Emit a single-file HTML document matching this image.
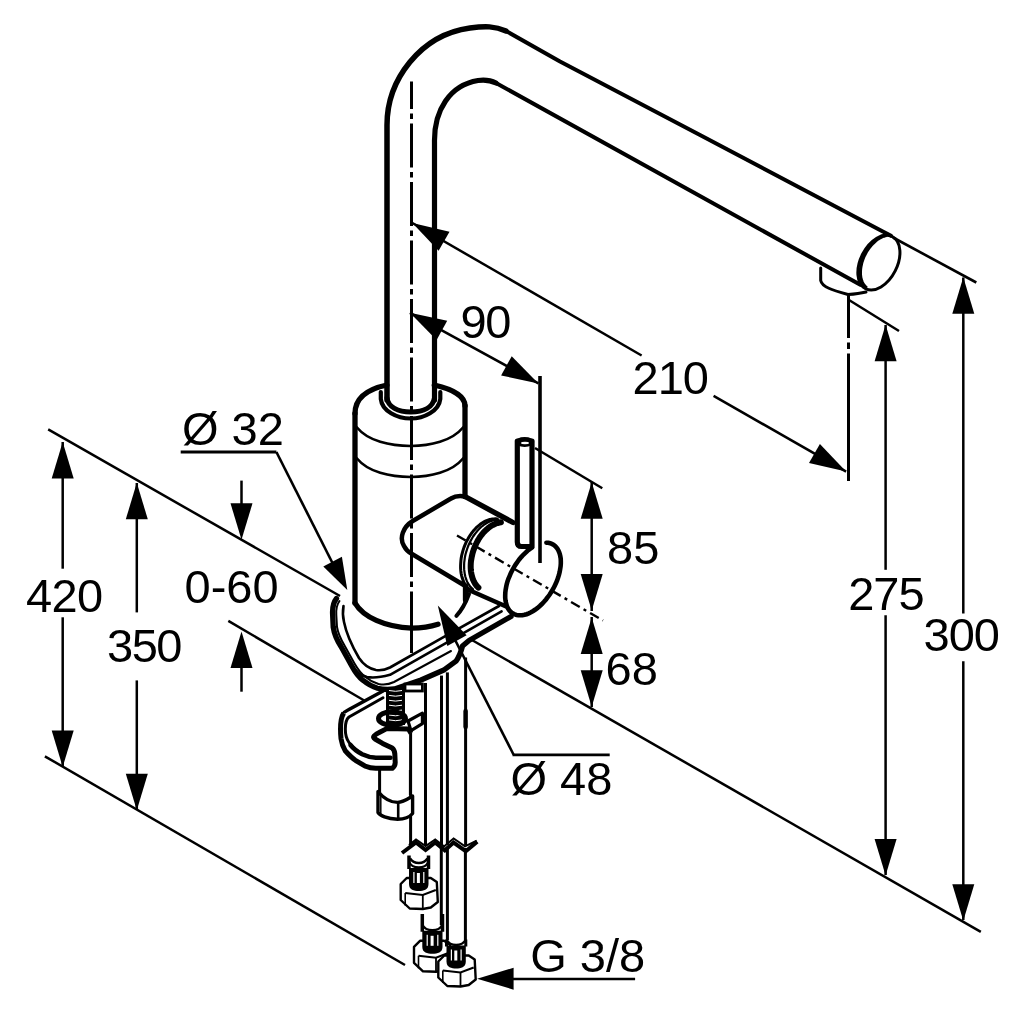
<!DOCTYPE html>
<html><head><meta charset="utf-8"><style>
html,body{margin:0;padding:0;background:#fff;width:1030px;height:1030px;overflow:hidden}
svg{display:block}
text{font-family:"Liberation Sans",sans-serif;fill:#000}
svg{will-change:transform}
</style></head><body>
<svg width="1030" height="1030" viewBox="0 0 1030 1030">
<rect width="1030" height="1030" fill="#fff"/>
<line x1="412.4" y1="223.0" x2="641.6" y2="355.5" stroke="#000" stroke-width="2.5"/>
<line x1="713.6" y1="395.9" x2="846.1" y2="471.6" stroke="#000" stroke-width="2.5"/>
<polygon points="412.4,223.0 449.5,231.7 438.6,250.7" fill="#000"/>
<polygon points="846.1,471.6 809.0,463.0 819.9,443.9" fill="#000"/>
<text x="632.6" y="393.8" font-size="47" letter-spacing="-1">210</text>
<line x1="409.9" y1="312.8" x2="538.4" y2="383.4" stroke="#000" stroke-width="2.5"/>
<polygon points="409.9,312.8 447.2,320.8 436.6,340.0" fill="#000"/>
<polygon points="538.4,383.4 501.1,375.4 511.7,356.2" fill="#000"/>
<text x="460.6" y="337.5" font-size="47" letter-spacing="-1.5">90</text>
<line x1="540.0" y1="376.0" x2="540.0" y2="563.0" stroke="#000" stroke-width="3.6"/>
<line x1="535.0" y1="448.0" x2="602.3" y2="488.2" stroke="#000" stroke-width="2.5"/>
<line x1="591.7" y1="482.0" x2="591.7" y2="611.0" stroke="#000" stroke-width="2.5"/>
<polygon points="591.7,482.3 602.7,518.8 580.7,518.8" fill="#000"/>
<polygon points="591.7,610.5 580.7,574.0 602.7,574.0" fill="#000"/>
<text x="607.1" y="563.6" font-size="47">85</text>
<line x1="591.7" y1="617.0" x2="591.7" y2="707.0" stroke="#000" stroke-width="2.5"/>
<polygon points="591.7,617.5 602.7,654.0 580.7,654.0" fill="#000"/>
<polygon points="591.7,706.8 580.7,670.3 602.7,670.3" fill="#000"/>
<text x="605.6" y="685.2" font-size="47">68</text>
<line x1="471.0" y1="639.5" x2="980.8" y2="931.9" stroke="#000" stroke-width="2.5"/>
<line x1="849.0" y1="300.0" x2="899.0" y2="331.0" stroke="#000" stroke-width="2.5"/>
<line x1="885.6" y1="325.0" x2="885.6" y2="569.8" stroke="#000" stroke-width="2.5"/>
<line x1="885.6" y1="615.2" x2="885.6" y2="875.0" stroke="#000" stroke-width="2.5"/>
<polygon points="885.6,324.7 896.6,361.2 874.6,361.2" fill="#000"/>
<polygon points="885.6,875.6 874.6,839.1 896.6,839.1" fill="#000"/>
<text x="848.2" y="609.6" font-size="47" letter-spacing="-1">275</text>
<line x1="893.0" y1="237.5" x2="976.3" y2="282.5" stroke="#000" stroke-width="2.6"/>
<line x1="963.3" y1="277.5" x2="963.3" y2="613.5" stroke="#000" stroke-width="2.5"/>
<line x1="963.3" y1="661.2" x2="963.3" y2="920.0" stroke="#000" stroke-width="2.5"/>
<polygon points="963.3,277.3 974.3,313.8 952.3,313.8" fill="#000"/>
<polygon points="963.3,920.7 952.3,884.2 974.3,884.2" fill="#000"/>
<text x="923.6" y="650.8" font-size="47" letter-spacing="-1">300</text>
<line x1="48.2" y1="429.4" x2="340.0" y2="596.0" stroke="#000" stroke-width="2.5"/>
<line x1="44.9" y1="756.3" x2="405.0" y2="965.0" stroke="#000" stroke-width="2.5"/>
<line x1="62.7" y1="442.0" x2="62.7" y2="568.7" stroke="#000" stroke-width="2.5"/>
<line x1="62.7" y1="617.3" x2="62.7" y2="767.0" stroke="#000" stroke-width="2.5"/>
<polygon points="62.7,442.0 73.7,478.5 51.7,478.5" fill="#000"/>
<polygon points="62.7,767.0 51.7,730.5 73.7,730.5" fill="#000"/>
<text x="26" y="611.5" font-size="47" letter-spacing="-0.6">420</text>
<line x1="136.8" y1="483.0" x2="136.8" y2="612.4" stroke="#000" stroke-width="2.5"/>
<line x1="136.8" y1="680.4" x2="136.8" y2="810.0" stroke="#000" stroke-width="2.5"/>
<polygon points="136.8,482.8 147.8,519.3 125.8,519.3" fill="#000"/>
<polygon points="136.8,810.3 125.8,773.8 147.8,773.8" fill="#000"/>
<text x="107" y="661.5" font-size="47" letter-spacing="-1.5">350</text>
<line x1="241.5" y1="480.6" x2="241.5" y2="520.0" stroke="#000" stroke-width="2.5"/>
<polygon points="241.5,539.8 230.5,503.3 252.5,503.3" fill="#000"/>
<line x1="241.5" y1="650.0" x2="241.5" y2="691.7" stroke="#000" stroke-width="2.5"/>
<polygon points="241.5,631.6 252.5,668.1 230.5,668.1" fill="#000"/>
<line x1="228.3" y1="620.9" x2="364.2" y2="700.5" stroke="#000" stroke-width="2.5"/>
<text x="184.5" y="603" font-size="47">0-60</text>
<text x="182" y="444.7" font-size="47">&#216; 32</text>
<line x1="180.7" y1="452.0" x2="276.4" y2="452.0" stroke="#000" stroke-width="3"/>
<line x1="276.4" y1="452.0" x2="334.0" y2="566.0" stroke="#000" stroke-width="2.6"/>
<polygon points="347.3,590.0 323.3,566.4 341.9,556.8" fill="#000"/>
<polygon points="437.8,605.5 466.6,635.3 447.3,645.9" fill="#000"/>
<line x1="450.0" y1="630.0" x2="513.5" y2="754.5" stroke="#000" stroke-width="2.6"/>
<line x1="512.5" y1="754.8" x2="609.7" y2="754.8" stroke="#000" stroke-width="2.8"/>
<text x="510.4" y="795.3" font-size="47">&#216; 48</text>
<polygon points="477.1,978.7 513.6,967.7 513.6,989.7" fill="#000"/>
<line x1="500.0" y1="979.0" x2="635.1" y2="979.0" stroke="#000" stroke-width="2.6"/>
<text x="530.2" y="972.3" font-size="47">G 3/8</text>
<line x1="411.5" y1="81.6" x2="411.5" y2="652" stroke="#000" stroke-width="3" stroke-dasharray="44 4.5 5.5 4.5" stroke-dashoffset="16.6"/>
<line x1="848.5" y1="295" x2="848.5" y2="481" stroke="#000" stroke-width="3" stroke-dasharray="43 4.5 6.5 4.5 200"/>
<line x1="457" y1="535.5" x2="603" y2="620.5" stroke="#000" stroke-width="2.4" stroke-dasharray="10 4.5 3 4.5"/>
<path d="M387,400 L387,125 C387,80 420,35 470,28 C485,26 495,26 506,31" fill="none" stroke="#000" stroke-width="5.5" stroke-linejoin="round" stroke-linecap="round" />
<path d="M506,31 L560,61.5 L700,135 L882.8,231.5 L891,235.8" fill="none" stroke="#000" stroke-width="4" stroke-linejoin="round" stroke-linecap="round" />
<path d="M434.5,400 L434.5,142 C434,110 450,85 478,80.5 C485,79.5 490,80 496,83" fill="none" stroke="#000" stroke-width="5.2" stroke-linejoin="round" stroke-linecap="round" />
<path d="M496,83 L860.3,284.8" fill="none" stroke="#000" stroke-width="4" stroke-linejoin="round" stroke-linecap="round" />
<ellipse cx="878.9" cy="262.6" rx="18.3" ry="29.3" transform="rotate(27 878.9 262.6)" fill="none" stroke="#000" stroke-width="3"/>
<path d="M866.7,287.9 L865.8,287.1 L864.9,286.3 L864.1,285.3 L863.3,284.3 L862.7,283.1 L862.1,281.9 L861.6,280.6 L861.2,279.2 L860.8,277.8 L860.6,276.2 L860.4,274.7 L860.4,273.0 L860.4,271.3 L860.5,269.6 L860.7,267.9 L861.0,266.1 L861.4,264.3 L861.8,262.5 L862.4,260.7 L863.0,259.0 L863.7,257.2 L864.5,255.4 L865.4,253.7 L866.3,252.0 L867.3,250.4 L868.4,248.8 L869.5,247.3 L870.6,245.9 L871.8,244.5 L873.1,243.2 L874.4,242.0 L875.7,240.8 L877.0,239.8 L878.4,238.8 L879.7,238.0 L881.1,237.3 L882.5,236.6 L883.9,236.1 L885.2,235.7 L886.6,235.4" fill="none" stroke="#000" stroke-width="3.2"/>
<path d="M820.7,268 L820.7,280.5 C822,287 832,290 848,294.5 C856,294 862,293 866,292" fill="none" stroke="#000" stroke-width="3" stroke-linejoin="round" stroke-linecap="round" />
<path d="M355,413.5 L355,603" fill="none" stroke="#000" stroke-width="5.3" stroke-linejoin="round" stroke-linecap="round" />
<path d="M465,405.7 L465,496.5" fill="none" stroke="#000" stroke-width="5.3" stroke-linejoin="round" stroke-linecap="round" />
<path d="M465.5,586 L465.5,600" fill="none" stroke="#000" stroke-width="5.3" stroke-linejoin="round" stroke-linecap="round" />
<path d="M355,413.5 C355,398 368,389 386.9,385" fill="none" stroke="#000" stroke-width="5.3" stroke-linejoin="round" stroke-linecap="round" />
<path d="M434.3,385 C452,389 465,396 465,405.7" fill="none" stroke="#000" stroke-width="5.3" stroke-linejoin="round" stroke-linecap="round" />
<path d="M380.8,392 L380.8,399 C382,411 397,418.5 410.8,418.5 C424,418.5 439,411 440.3,399 L440.3,392" fill="none" stroke="#000" stroke-width="4.2" stroke-linejoin="round" stroke-linecap="round" />
<path d="M387,398 C388,407 398,412 410.8,412 C424,412 433,407 434.5,398" fill="none" stroke="#000" stroke-width="5" stroke-linejoin="round" stroke-linecap="round" />
<path d="M357,427.5 C368,441 390,446 410.8,446 C430,446 452,441 463,427.5" fill="none" stroke="#000" stroke-width="2.6" stroke-linejoin="round" stroke-linecap="round" />
<path d="M357,458.5 C368,472 390,477 410.8,477 C430,477 452,472 463,458.5" fill="none" stroke="#000" stroke-width="2.6" stroke-linejoin="round" stroke-linecap="round" />
<path d="M355,603 C363,617 385,627 411.7,628.2 C423,628 431,626.5 438,624.3" fill="none" stroke="#000" stroke-width="5.3" stroke-linejoin="round" stroke-linecap="round" />
<path d="M336.5,598.5 C333,603 332.3,608 332.6,614 L333.2,627 C334.5,636 337.5,641 341,646.5 L351.5,665.5 C355.5,673 358.5,677 363,680.3 C367.5,684 371.5,686.5 377.5,688.3 C383.5,689.8 388.5,689.8 394.5,689 L421,680 L444.4,669.7 L456,661.2 C459,657 461,652 462.5,646 L469,640.5 L511,616.5" fill="none" stroke="#000" stroke-width="5.3" stroke-linejoin="round" stroke-linecap="round" />
<path d="M339.5,601 C336.5,605 336,610 336.3,615 L337,627 C338.3,635 341.3,640 344.5,645.5 L354.5,663.5 C358.5,670.5 361.5,674 365.5,677 C369.5,680.5 373.5,682.5 378.5,684 C384,685.3 389,684.5 394,682 L451,651" fill="none" stroke="#000" stroke-width="2" stroke-linejoin="round" stroke-linecap="round" />
<path d="M351,664 C355,671 360,675.5 367,677 C375,678.5 382,677 390,674.8 L442.8,644.9 L501.6,611.3" fill="none" stroke="#000" stroke-width="2.6" stroke-linejoin="round" stroke-linecap="round" />
<path d="M343.5,606 C342.5,612 343,618 344,622 C346,632 352,646 359,658 C363,664 368,668.5 376,670 C382,670.8 386,669.5 390,667.5 L441.3,638.3 L499,606" fill="none" stroke="#000" stroke-width="2.6" stroke-linejoin="round" stroke-linecap="round" />
<line x1="411.5" y1="627.0" x2="411.5" y2="653.0" stroke="#000" stroke-width="3"/>
<path d="M546.4,542.7 L548.3,542.8 L550.1,543.2 L551.8,543.9 L553.4,544.7 L554.8,545.8 L556.1,547.0 L557.3,548.5 L558.3,550.2 L559.1,552.0 L559.8,554.1 L560.3,556.3 L560.7,558.6 L560.8,561.0 L560.8,563.6 L560.6,566.3 L560.2,569.0 L559.7,571.8 L559.0,574.7 L558.1,577.6 L557.1,580.5 L555.9,583.4 L554.5,586.2 L553.1,589.0 L551.4,591.8 L549.7,594.5 L547.9,597.0 L546.0,599.5 L544.0,601.8 L541.9,604.0 L539.8,606.0 L537.6,607.9 L535.4,609.5 L533.2,611.0 L531.0,612.3 L528.8,613.3 L526.6,614.2 L524.5,614.8 L522.4,615.2 L520.4,615.3 L518.4,615.2 L516.6,614.9 L514.8,614.4 L513.2,613.7 L511.7,612.7 L510.4,611.5 L509.1,610.1 L508.1,608.5 L507.2,606.7 L506.4,604.7 L505.9,602.6 L505.5,600.4 L505.2,597.9 L505.2,595.4 L505.3,592.8 L505.6,590.1 L506.1,587.3 L506.7,584.4 L507.5,581.5 L508.5,578.6 L509.7,575.8 L510.9,572.9 L512.4,570.0 L513.9,567.3 L515.6,564.6 L517.4,562.0 L519.2,559.5 L521.2,557.1 L523.3,554.8 L525.4,552.8 L527.5,550.8 L529.7,549.1 L531.9,547.6" fill="none" stroke="#000" stroke-width="4.6" stroke-linecap="round"/>
<path d="M466.6,589 L505.6,606.2" fill="none" stroke="#000" stroke-width="4.5" stroke-linejoin="round" stroke-linecap="round" />
<path d="M497.3,519.0 L495.5,518.8 L493.6,518.9 L491.7,519.1 L489.8,519.5 L487.9,520.1 L485.9,520.9 L484.0,521.9 L482.1,523.0 L480.2,524.3 L478.4,525.8 L476.6,527.4 L474.9,529.2 L473.2,531.1 L471.6,533.2 L470.1,535.3 L468.7,537.6 L467.4,539.9 L466.1,542.4 L465.0,544.9 L464.0,547.4 L463.1,550.1 L462.4,552.7 L461.7,555.4 L461.2,558.0 L460.9,560.7 L460.7,563.3 L460.6,565.9 L460.6,568.4 L460.8,570.9 L461.1,573.3 L461.6,575.6 L462.2,577.8 L462.9,579.9 L463.7,581.9 L464.7,583.7 L465.8,585.4 L467.0,587.0 L468.3,588.4 L469.7,589.6 L471.2,590.6" fill="none" stroke="#000" stroke-width="3" stroke-linejoin="round" stroke-linecap="round" />
<path d="M498.4,519.8 L496.6,519.8 L494.9,520.0 L493.1,520.4 L491.3,520.9 L489.5,521.6 L487.7,522.5 L485.9,523.5 L484.2,524.7 L482.4,526.0 L480.7,527.4 L479.1,529.0 L477.5,530.7 L476.0,532.6 L474.5,534.5 L473.1,536.5 L471.8,538.7 L470.6,540.9 L469.4,543.2 L468.4,545.5 L467.5,547.9 L466.7,550.4 L465.9,552.8 L465.3,555.3 L464.8,557.8 L464.5,560.3 L464.2,562.7 L464.1,565.1 L464.1,567.5 L464.2,569.9 L464.5,572.1 L464.8,574.3 L465.3,576.5 L465.9,578.5 L466.6,580.4 L467.4,582.2 L468.4,583.9 L469.4,585.5 L470.5,586.9 L471.8,588.2 L473.1,589.3" fill="none" stroke="#000" stroke-width="2.2" stroke-linejoin="round" stroke-linecap="round" />
<path d="M500.9,522.3 L499.3,522.6 L497.7,523.0 L496.1,523.5 L494.4,524.2 L492.8,525.0 L491.2,525.9 L489.6,527.0 L488.1,528.2 L486.6,529.5 L485.1,530.9 L483.6,532.4 L482.2,534.1 L480.9,535.8 L479.6,537.6 L478.4,539.5 L477.3,541.5 L476.3,543.5 L475.3,545.6 L474.4,547.7 L473.6,549.9 L472.9,552.0 L472.3,554.3 L471.8,556.5 L471.4,558.7 L471.0,560.9 L470.8,563.1 L470.7,565.3 L470.7,567.5 L470.8,569.6 L471.0,571.6 L471.3,573.6 L471.8,575.5 L472.3,577.4 L472.9,579.2 L473.6,580.8 L474.4,582.4 L475.2,583.9 L476.2,585.2 L477.3,586.5 L478.4,587.6" fill="none" stroke="#000" stroke-width="6" stroke-linejoin="round" stroke-linecap="round" />
<path d="M469,594 C466,602 462,610 456.4,615.8" fill="none" stroke="#000" stroke-width="4" stroke-linejoin="round" stroke-linecap="round" />
<path d="M465,496.5 C460,495.5 455,496 451,498.5 L412.7,521 C403,527 399,538 404,546 C406,550 408,552 412,554 L466.6,586.8" fill="none" stroke="#000" stroke-width="4.5" stroke-linejoin="round"/>
<path d="M465,496.5 L513,522.5" fill="none" stroke="#000" stroke-width="5.3" stroke-linejoin="round" stroke-linecap="round" />
<path d="M517.3,441 L517.3,542 Q517.3,546.5 521.5,546.5 L532,546.5 L532,441 Z" fill="#fff" stroke="#000" stroke-width="5.2" stroke-linejoin="round"/>
<ellipse cx="524.6" cy="442" rx="9.6" ry="5" fill="#000"/>
<ellipse cx="525" cy="443" rx="4" ry="1.2" fill="#fff"/>
<line x1="410.6" y1="733.0" x2="410.6" y2="845.0" stroke="#000" stroke-width="3"/>
<line x1="425.5" y1="683.0" x2="425.5" y2="845.0" stroke="#000" stroke-width="3"/>
<line x1="441.5" y1="675.6" x2="441.5" y2="845.0" stroke="#000" stroke-width="3"/>
<line x1="447.4" y1="672.4" x2="447.4" y2="845.0" stroke="#000" stroke-width="3"/>
<line x1="465.6" y1="657.5" x2="465.6" y2="845.0" stroke="#000" stroke-width="3"/>
<path d="M465.6,711 L465.6,727" fill="none" stroke="#000" stroke-width="4.5" stroke-linejoin="round" stroke-linecap="round" />
<rect x="405" y="684" width="17.4" height="7" fill="#fff" stroke="#000" stroke-width="2.8"/>
<path d="M342.5,714.5 C344,712 346,711 348,710 L383,691" fill="none" stroke="#000" stroke-width="3.6" stroke-linejoin="round" stroke-linecap="round" />
<path d="M343.7,713.2 C340.5,718 340.2,730 341,738.6 C342,745 343.5,748 345.2,750.8 C349,755 352,758 355.4,760.3 L365.6,766.3 C369,767.8 372,768.3 375.8,768.3 L392.3,768.3 C394.5,766.5 395.3,764 395.2,762 L394.8,753.6 C394.5,751 393.5,749 392.2,748.1 L382.6,743.4 L375,739 C373.5,738 373.3,737 373.9,736.2 C375,734.5 377,733.5 379.2,732.5 L386.7,728.6 L408.4,728.9 L411,733.3" fill="#fff" stroke="#000" stroke-width="5" stroke-linejoin="round"/>
<path d="M383,697.8 L349,717 C346.5,719 345.3,724 345.3,729 C345.3,735 346.5,739 349,742.5 C353,748 357.5,751.5 362.2,754 C367,756.3 371,757.3 375.8,757.5 L390.5,757.5" fill="none" stroke="#000" stroke-width="3" stroke-linejoin="round" stroke-linecap="round" />
<path d="M350.5,745 C354,749.5 358,752 362.2,754.3 C367,756.6 371,757.6 375.8,757.8 L390.5,757.8" fill="none" stroke="#000" stroke-width="4.5" stroke-linejoin="round" stroke-linecap="round" />
<rect x="386" y="687" width="19" height="38" fill="#000"/>
<path d="M389,690.5 Q395.5,692.1 402,690.5" fill="none" stroke="#fff" stroke-width="1"/>
<path d="M389,695.4 Q395.5,697.0 402,695.4" fill="none" stroke="#fff" stroke-width="1"/>
<path d="M389,700.3 Q395.5,701.9 402,700.3" fill="none" stroke="#fff" stroke-width="1"/>
<path d="M389,705.2 Q395.5,706.8 402,705.2" fill="none" stroke="#fff" stroke-width="1"/>
<path d="M389,710.1 Q395.5,711.7 402,710.1" fill="none" stroke="#fff" stroke-width="1"/>
<path d="M389,715.0 Q395.5,716.6 402,715.0" fill="none" stroke="#fff" stroke-width="1"/>
<path d="M389,719.9 Q395.5,721.5 402,719.9" fill="none" stroke="#fff" stroke-width="1"/>
<path d="M389,724.8 Q395.5,726.4 402,724.8" fill="none" stroke="#fff" stroke-width="1"/>
<ellipse cx="392" cy="718.5" rx="13.5" ry="6.8" fill="none" stroke="#000" stroke-width="5"/>
<path d="M408,721 L422.4,713.2 L422.4,723.7 L411,730.7 Z" fill="#fff" stroke="#000" stroke-width="3.2" stroke-linejoin="round"/>
<path d="M379.6,770 L379.6,795 M410.4,770 L410.4,795" stroke="#000" stroke-width="3"/>
<path d="M378,791.5 L378,812.5 C380,815.5 387,819 397.6,819.2 C405,819.2 409.5,817.3 412.6,813.5 L412.6,796 C407,799.5 403,802.4 397.6,802.4 C390,802.4 383,797.5 378,791.5 Z" fill="#fff" stroke="#000" stroke-width="3.4" stroke-linejoin="round"/>
<line x1="398.2" y1="802.5" x2="398.2" y2="819.0" stroke="#000" stroke-width="2.6"/>
<line x1="380.8" y1="796.0" x2="380.8" y2="815.0" stroke="#000" stroke-width="1.5"/>
<line x1="441.3" y1="848.0" x2="441.3" y2="925.0" stroke="#000" stroke-width="3"/>
<line x1="447.4" y1="848.0" x2="447.4" y2="940.0" stroke="#000" stroke-width="3"/>
<line x1="465.4" y1="848.0" x2="465.4" y2="940.0" stroke="#000" stroke-width="3"/>
<polyline points="409,845.1 416,839.4 425.6,846 435.2,839.4 444,846.4 453.6,838.5 465,846.4 476.7,840.7" fill="none" stroke="#000" stroke-width="2" stroke-linejoin="miter"/>
<polyline points="402,853 416,842.5 425.6,850 435.2,842.5 444.8,850.3 453.6,842.5 465.8,851.2 477.2,841.6" fill="none" stroke="#000" stroke-width="4" stroke-linejoin="miter"/>
<path d="M400.7,884.0 L406.7,878.0 L430.8,878.0 L436.8,882.0 L437.8,902.0 L430.8,907.5 L422.8,909.0 L409.7,908.5 L400.7,900.0 Z" fill="#fff" stroke="#000" stroke-width="2.4" stroke-linejoin="round"/>
<polyline points="405.2,893.0 422.8,895.0 435.8,890.0" fill="none" stroke="#000" stroke-width="2"/>
<line x1="422.8" y1="895.0" x2="422.8" y2="908.5" stroke="#000" stroke-width="1.8"/>
<line x1="405.2" y1="893.0" x2="405.2" y2="905.5" stroke="#000" stroke-width="1.6"/>
<path d="M409.0,868.0 L409.0,884.0 C409.0,890.0 414.0,891.0 418.8,891.0 C423.5,891.0 428.5,890.0 428.5,884.0 L428.5,868.0 Z" fill="#000"/>
<rect x="416.9" y="873.0" width="3" height="10" fill="#fff"/>
<rect x="413.3" y="872.0" width="1.2" height="11" fill="#fff"/>
<rect x="423.2" y="872.0" width="1.2" height="11" fill="#fff"/>
<path d="M409.0,862.0 C411.0,866.0 415.0,867.5 418.8,867.5 C422.5,867.5 426.5,866.0 428.5,862.0" fill="none" stroke="#000" stroke-width="2.4"/>
<path d="M409.0,855.5 L409.0,869.0 M428.5,855.5 L428.5,869.0" stroke="#000" stroke-width="3.5"/>
<path d="M410.0,858.5 C412.0,861.5 415.0,863.0 418.8,863.0 C422.5,863.0 425.5,861.5 427.5,858.5" fill="none" stroke="#000" stroke-width="2.6"/>
<path d="M414.0,946.8 L420.0,940.8 L444.0,940.8 L450.0,944.8 L451.0,964.8 L444.0,970.3 L436.0,971.8 L423.0,971.3 L414.0,962.8 Z" fill="#fff" stroke="#000" stroke-width="2.4" stroke-linejoin="round"/>
<polyline points="418.5,955.8 436.0,957.8 449.0,952.8" fill="none" stroke="#000" stroke-width="2"/>
<line x1="436.0" y1="957.8" x2="436.0" y2="971.3" stroke="#000" stroke-width="1.8"/>
<line x1="418.5" y1="955.8" x2="418.5" y2="968.3" stroke="#000" stroke-width="1.6"/>
<path d="M422.3,930.8 L422.3,946.8 C422.3,952.8 427.3,953.8 432.4,953.8 C437.5,953.8 442.5,952.8 442.5,946.8 L442.5,930.8 Z" fill="#000"/>
<rect x="430.6" y="935.8" width="3" height="10" fill="#fff"/>
<rect x="426.6" y="934.8" width="1.2" height="11" fill="#fff"/>
<rect x="437.2" y="934.8" width="1.2" height="11" fill="#fff"/>
<path d="M422.3,924.8 C424.3,928.8 428.3,930.3 432.4,930.3 C436.5,930.3 440.5,928.8 442.5,924.8" fill="none" stroke="#000" stroke-width="2.4"/>
<path d="M422.3,914.0 L422.3,931.8 M442.5,914.0 L442.5,931.8" stroke="#000" stroke-width="3.5"/>
<path d="M438.3,961.5 L444.3,955.5 L468.7,955.5 L474.7,959.5 L475.7,979.5 L468.7,985.0 L460.5,986.5 L447.3,986.0 L438.3,977.5 Z" fill="#fff" stroke="#000" stroke-width="2.4" stroke-linejoin="round"/>
<polyline points="442.8,970.5 460.5,972.5 473.7,967.5" fill="none" stroke="#000" stroke-width="2"/>
<line x1="460.5" y1="972.5" x2="460.5" y2="986.0" stroke="#000" stroke-width="1.8"/>
<line x1="442.8" y1="970.5" x2="442.8" y2="983.0" stroke="#000" stroke-width="1.6"/>
<path d="M446.5,945.5 L446.5,961.5 C446.5,967.5 451.5,968.5 456.1,968.5 C460.8,968.5 465.8,967.5 465.8,961.5 L465.8,945.5 Z" fill="#000"/>
<rect x="454.3" y="950.5" width="3" height="10" fill="#fff"/>
<rect x="450.8" y="949.5" width="1.2" height="11" fill="#fff"/>
<rect x="460.5" y="949.5" width="1.2" height="11" fill="#fff"/>
<path d="M446.5,939.5 C448.5,943.5 452.5,945.0 456.1,945.0 C459.8,945.0 463.8,943.5 465.8,939.5" fill="none" stroke="#000" stroke-width="2.4"/>
<path d="M446.5,939.5 L446.5,946.5 M465.8,939.5 L465.8,946.5" stroke="#000" stroke-width="3"/>
</svg></body></html>
